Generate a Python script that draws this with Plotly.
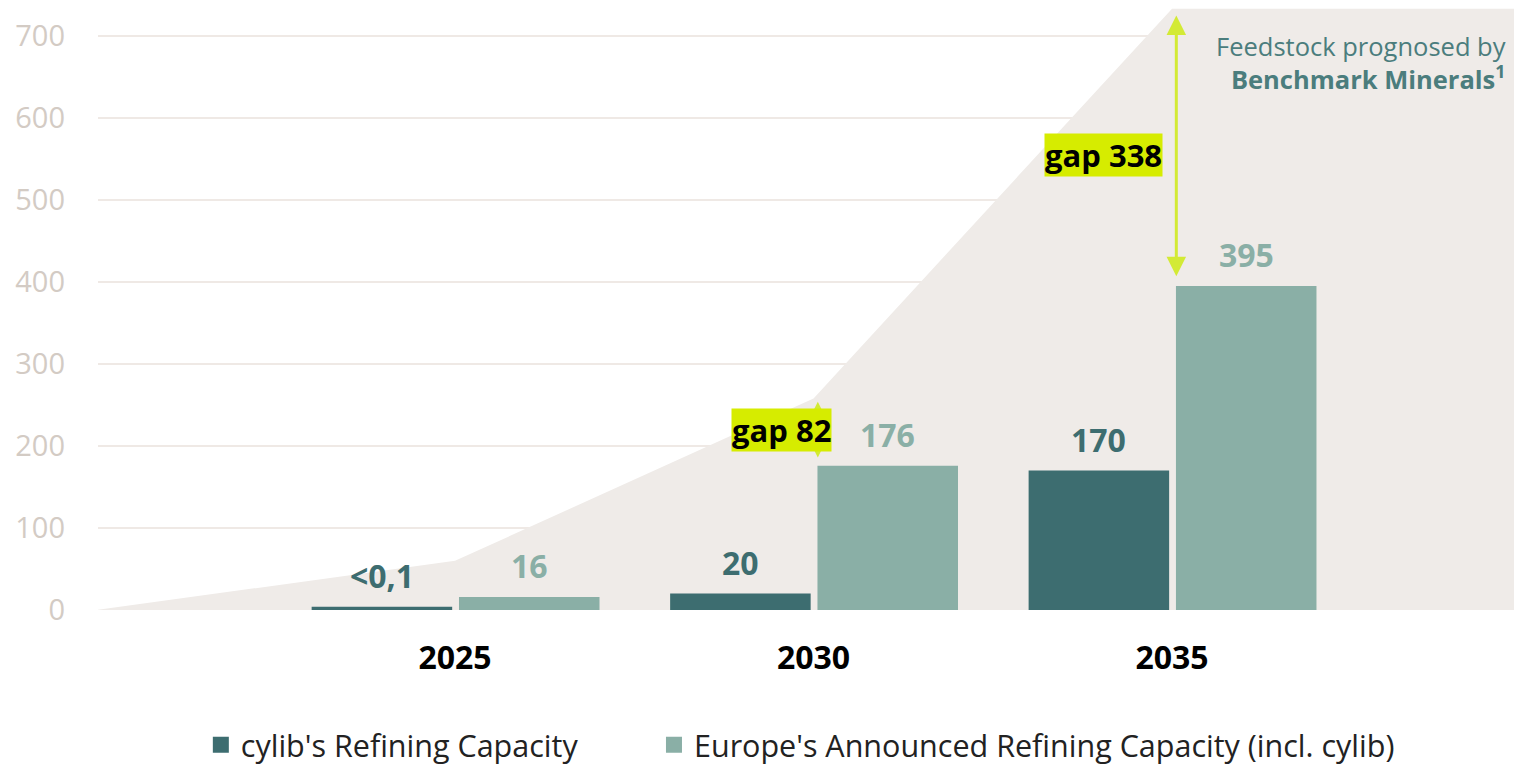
import plotly.graph_objects as go

# ---- data ----
years = ["2025", "2030", "2035"]
cylib_capacity = [4, 20, 170]          # drawn bar heights (2025 shown as "<0,1")
cylib_labels = ["<0,1", "20", "170"]
europe_capacity = [16, 176, 395]
europe_labels = ["16", "176", "395"]
feedstock_pos = [-1, 0, 1, 2, 3]
feedstock_vals = [0, 60, 258, 733, 733]
y_ticks = [0, 100, 200, 300, 400, 500, 600, 700]

C_DARK = "#3d6d70"
C_LIGHT = "#8aafa6"
C_AREA = "#efebe8"
C_GRID = "#efe9e5"
C_LIME = "#d6ec00"
C_ARROW = "#d3ea35"
FONT = "Open Sans"

XR = [-0.996, 2.954]
YR = [0, 734]

xpos = list(range(len(years)))

fig = go.Figure()

fig.add_trace(go.Scatter(
    x=feedstock_pos, y=feedstock_vals, mode="lines", fill="tozeroy",
    fillcolor=C_AREA, line=dict(width=0, color=C_AREA), showlegend=False,
    hoverinfo="skip", xaxis="x", yaxis="y"))

fig.add_trace(go.Bar(x=xpos, y=cylib_capacity, width=0.392, offset=-0.40,
                     marker=dict(color=C_DARK, line=dict(width=0)), showlegend=False,
                     xaxis="x2", yaxis="y2"))
fig.add_trace(go.Bar(x=xpos, y=europe_capacity, width=0.392, offset=0.011,
                     marker=dict(color=C_LIGHT, line=dict(width=0)), showlegend=False,
                     xaxis="x2", yaxis="y2"))

fig.add_trace(go.Scatter(x=[None], y=[None], mode="markers",
                         name="cylib's Refining Capacity" + "\u00a0" * 9,
                         marker=dict(symbol="square", size=16, color=C_DARK)))
fig.add_trace(go.Scatter(x=[None], y=[None], mode="markers",
                         name="Europe's Announced Refining Capacity (incl. cylib)",
                         marker=dict(symbol="square", size=16, color=C_LIGHT)))

annotations = []
for i in xpos:
    annotations.append(dict(x=i - 0.204, y=cylib_capacity[i], text=f"<b>{cylib_labels[i]}</b>",
                            showarrow=False, yanchor="bottom", yshift=8,
                            font=dict(size=32, color=C_DARK, family=FONT)))
    annotations.append(dict(x=i + 0.207, y=europe_capacity[i], text=f"<b>{europe_labels[i]}</b>",
                            showarrow=False, yanchor="bottom", yshift=8,
                            font=dict(size=32, color=C_LIGHT, family=FONT)))

feed_at = {1: feedstock_vals[2], 2: feedstock_vals[3]}
for i, lab_dx, lab_y in [(1, -0.09, 219), (2, -0.19, 555)]:
    top = feed_at[i]
    bot = europe_capacity[i]
    pad_b = 10 if i == 2 else 8
    pad_t = 8 if i == 2 else 4
    annotations.append(dict(x=i + 0.012, y=top - pad_t, ax=i + 0.012, ay=bot + pad_b,
                            xref="x", yref="y", axref="x", ayref="y", text="",
                            showarrow=True, arrowhead=2, arrowside="end+start",
                            arrowsize=1.3 if i == 2 else 1.1, arrowwidth=3 if i == 2 else 2.5,
                            arrowcolor=C_ARROW, standoff=0, startstandoff=0))
    annotations.append(dict(x=i + lab_dx, y=lab_y, text=f"<b>gap {top - bot}</b>",
                            showarrow=False, bgcolor=C_LIME, borderpad=0,
                            font=dict(size=31, color="black", family=FONT)))

annotations.append(dict(xref="paper", yref="paper", x=0.9955, y=0.968, xanchor="right",
                        yanchor="top", align="right", showarrow=False,
                        text="Feedstock prognosed by<br><b>Benchmark Minerals<sup>1</sup></b>",
                        font=dict(size=25.5, color="#4b7d7d", family=FONT)))

fig.update_layout(
    width=1514, height=766,
    margin=dict(l=98, r=0, t=8, b=156, autoexpand=False),
    paper_bgcolor="white", plot_bgcolor="white",
    font=dict(family=FONT),
    barmode="overlay",
    annotations=annotations,
    legend=dict(orientation="h", x=0.496, xanchor="center", y=-0.2243, yanchor="middle",
                font=dict(size=30.5, color="#222222", family=FONT), entrywidth=0,
                traceorder="normal"),
    xaxis=dict(range=XR, tickvals=xpos, ticktext=years, showgrid=False, automargin=False,
               zeroline=False, showline=False, ticks="", ticklabelstandoff=26,
               tickfont=dict(size=32, color="black", family=FONT, weight="bold")),
    yaxis=dict(range=YR, tickvals=y_ticks, showgrid=True, gridcolor=C_GRID, automargin=False,
               gridwidth=2, zeroline=False, showline=False, ticks="",
               ticklabelstandoff=32,
               tickfont=dict(size=29, color="#d3cbc4", family=FONT)),
    xaxis2=dict(range=XR, overlaying="x", visible=False, automargin=False),
    yaxis2=dict(range=YR, overlaying="y", visible=False, automargin=False),
)

fig.write_html("out.html", config={"displayModeBar": False},
               post_script="document.body.style.margin='0';document.body.style.overflow='hidden';")
